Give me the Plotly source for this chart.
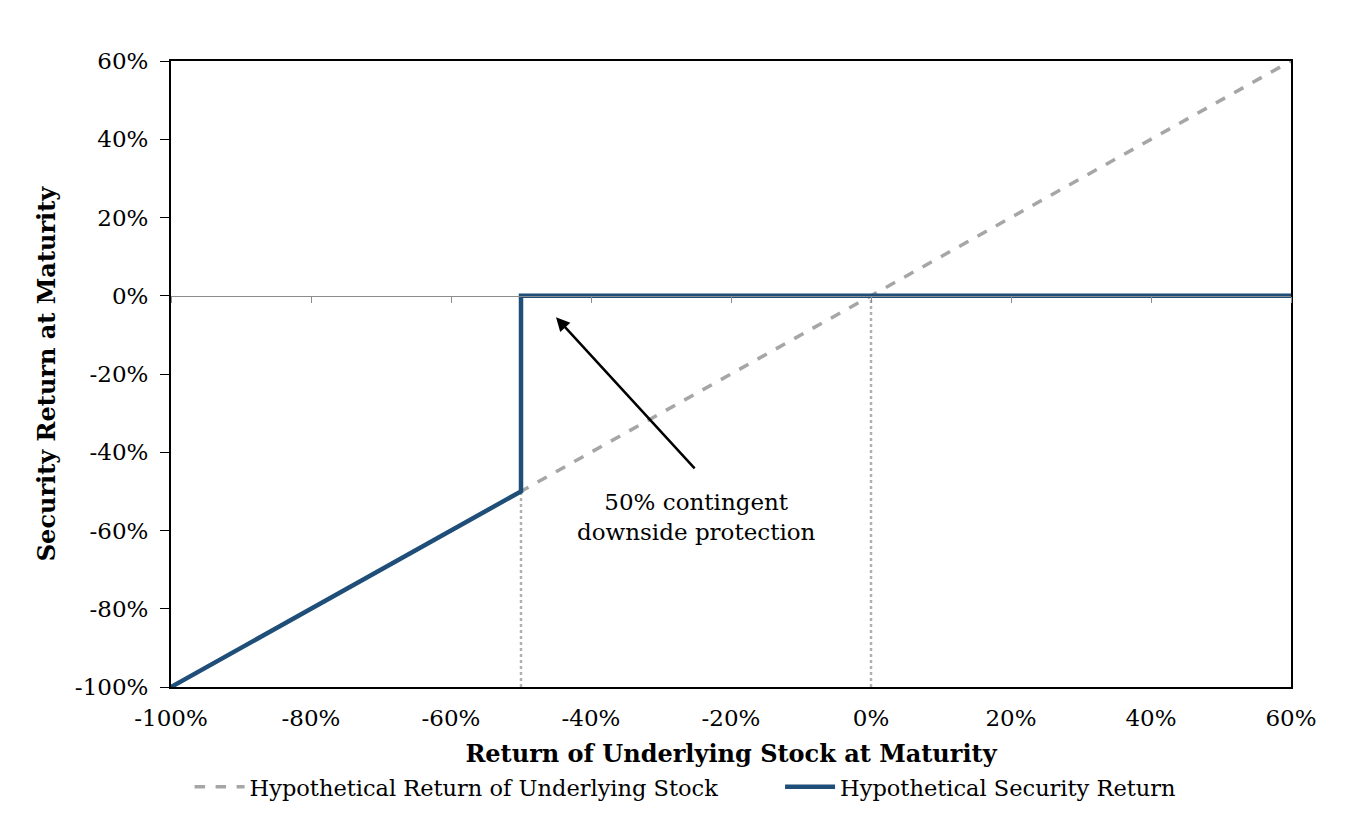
import plotly.graph_objects as go

# returns in percent
stock_x = [-100, 60]
stock_y = [-100, 60]

security_x = [-100, -50, -50, 60]
security_y = [-100, -50, 0, 0]

# dotted drop lines at the barrier and at zero
barrier_x = [-50, -50]
barrier_y = [-100, -50]
zero_x = [0, 0]
zero_y = [-100, 0]

tick_vals = [-100, -80, -60, -40, -20, 0, 20, 40, 60]
tick_text = ["-100%", "-80%", "-60%", "-40%", "-20%", "0%", "20%", "40%", "60%"]

font_family = "DejaVu Serif"
navy = "#1F4E79"
grey = "#A6A6A6"

fig = go.Figure()

fig.add_trace(go.Scatter(x=barrier_x, y=barrier_y, mode="lines", showlegend=False,
                         line=dict(color="#B0B0B0", width=2.5, dash="dot"), hoverinfo="skip"))
fig.add_trace(go.Scatter(x=zero_x, y=zero_y, mode="lines", showlegend=False,
                         line=dict(color="#B0B0B0", width=2.5, dash="dot"), hoverinfo="skip"))

# Underlying stock line (trailing nbsp just widens the legend gap)
fig.add_trace(go.Scatter(x=stock_x, y=stock_y, mode="lines",
                         name="Hypothetical Return of Underlying Stock" + "\u00a0" * 8,
                         line=dict(color=grey, width=3.5, dash="dash")))

# Security payoff
fig.add_trace(go.Scatter(x=security_x, y=security_y, mode="lines",
                         name="Hypothetical Security Return",
                         line=dict(color=navy, width=4.5)))

# invisible trace on xaxis2 so the zero line axis shows up
fig.add_trace(go.Scatter(x=[-100, 60], y=[0, 0], xaxis="x2", mode="lines",
                         line=dict(width=0), showlegend=False, hoverinfo="skip"))

fig.add_annotation(
    x=-45, y=-5.5, ax=-25, ay=-44.5,
    xref="x", yref="y", axref="x", ayref="y",
    showarrow=True, arrowhead=2, arrowsize=1.1, arrowwidth=2.5, arrowcolor="black",
    text="",
)
fig.add_annotation(
    x=-25, y=-56.5, xref="x", yref="y", showarrow=False,
    text="50% contingent<br>downside protection",
    font=dict(family=font_family, size=23, color="black"),
)

fig.update_layout(
    width=1368, height=820,
    margin=dict(l=163, r=85, t=53, b=141),
    paper_bgcolor="white", plot_bgcolor="white",
    font=dict(family=font_family, size=23, color="black"),
    xaxis=dict(
        range=[-100, 60], tickvals=tick_vals, ticktext=tick_text,
        showgrid=False, zeroline=False, showline=True, linecolor="black", linewidth=2,
        mirror=True, ticks="", tickfont=dict(size=23), ticklabelstandoff=9,
        title=dict(text="<b>Return of Underlying Stock at Maturity</b>", font=dict(size=24), standoff=16),
    ),
    xaxis2=dict(
        range=[-100, 60], tickvals=tick_vals, overlaying="x", anchor="free", position=0.625,
        showgrid=False, zeroline=False, showline=True, linecolor="#8C8C8C", linewidth=1,
        ticks="outside", ticklen=6, tickcolor="#8C8C8C", showticklabels=False,
    ),
    yaxis=dict(
        range=[-100, 60], tickvals=tick_vals, ticktext=tick_text,
        showgrid=False, zeroline=False, showline=True, linecolor="black", linewidth=2,
        mirror=True, ticks="outside", ticklen=9, tickcolor="black", tickfont=dict(size=23),
        ticklabelstandoff=7,
        title=dict(text="<b>Security Return at Maturity</b>", font=dict(size=24), standoff=12),
    ),
    legend=dict(orientation="h", x=0.459, xanchor="center", y=-0.16, yanchor="middle",
                font=dict(size=22.5), itemwidth=50, tracegroupgap=0),
    showlegend=True,
)

fig.write_html("out.html")
